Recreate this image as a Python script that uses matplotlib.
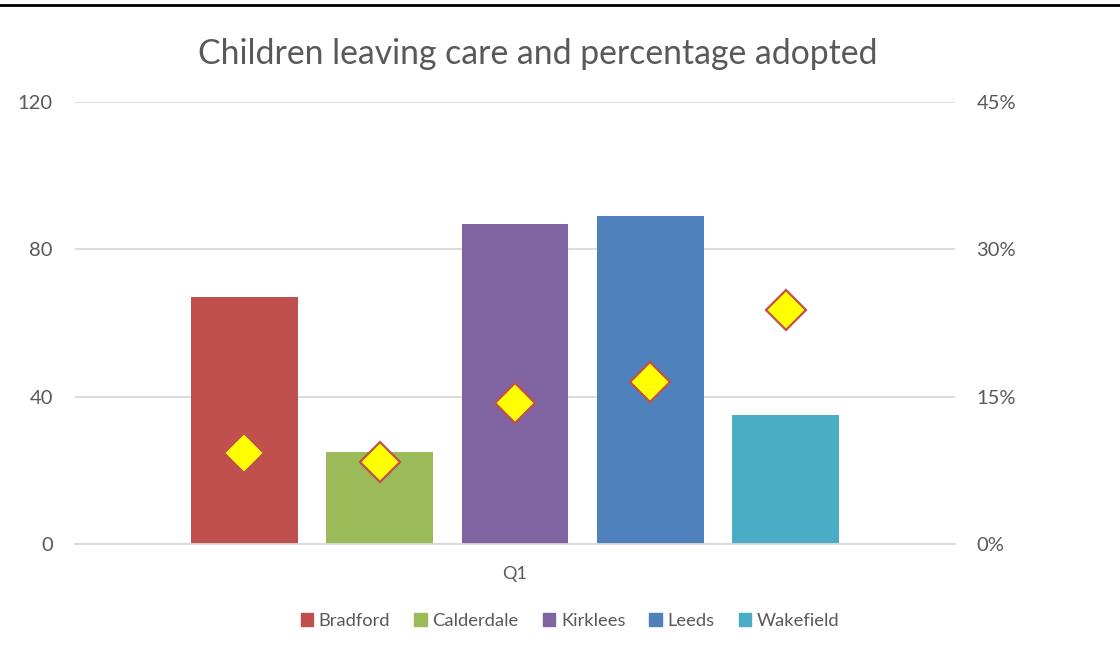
import numpy as np
import matplotlib.pyplot as plt
from matplotlib.lines import Line2D

plt.rcParams['font.family'] = ['Lato', 'DejaVu Sans']

areas = ['Bradford', 'Calderdale', 'Kirklees', 'Leeds', 'Wakefield']
leaving_care = [67, 25, 87, 89, 35]
pct_adopted = [9.3, 8.3, 14.4, 16.5, 23.8]
bar_colors = ['#C0504D', '#9BBB59', '#8064A2', '#4F81BD', '#4BACC6']
quarter = 'Q1'

text_col = '#595959'
grid_col = '#D9D9D9'

fig = plt.figure(figsize=(11.2, 6.59), dpi=100)
ax = fig.add_axes([75 / 1120, 1 - 544 / 659, 880 / 1120, 442 / 659])
ax2 = ax.twinx()

x = np.arange(len(areas)) - (len(areas) - 1) / 2
for xi, v, c, name in zip(x, leaving_care, bar_colors, areas):
    ax.bar(xi, v, width=0.79, color=c, label=name, zorder=2)

ax2.plot(x, pct_adopted, linestyle='none', marker='D', markersize=20.5,
         markerfacecolor='#FFFF00', markeredgecolor='#C0504D', markeredgewidth=1.6, zorder=3)

ax.set_xlim(-3.25, 3.25)
ax.set_ylim(0, 120)
ax.set_yticks([0, 40, 80, 120])
ax2.set_ylim(0, 45)
ax2.set_yticks([0, 15, 30, 45])
ax2.set_yticklabels(['0%', '15%', '30%', '45%'])
ax.set_xticks([0])
ax.set_xticklabels([quarter])

ax.grid(axis='y', color=grid_col, linewidth=1.3, zorder=0)
ax.set_axisbelow(True)
for a in (ax, ax2):
    for s in a.spines.values():
        s.set_visible(False)
    a.tick_params(length=0, labelsize=14.5, colors=text_col)
ax.spines['bottom'].set_visible(True)
ax.spines['bottom'].set_color(grid_col)
ax.spines['bottom'].set_linewidth(1.3)
ax.tick_params(axis='y', pad=16)
ax2.tick_params(axis='y', pad=15.5)
ax.tick_params(axis='x', labelsize=13, pad=16)

fig.text(538 / 1120, 1 - 54 / 659, 'Children leaving care and percentage adopted',
         ha='center', va='center', fontsize=24.3, color=text_col)

handles = [plt.Rectangle((0, 0), 1, 1, color=c) for c in bar_colors]
fig.legend(handles, areas, loc='center', bbox_to_anchor=(570 / 1120, 1 - 621 / 659),
           ncol=5, frameon=False, fontsize=13.2, labelcolor=text_col,
           handlelength=0.7, handleheight=0.7, handletextpad=0.3, columnspacing=1.3)

fig.add_artist(Line2D([0, 1], [1 - 5 / 659, 1 - 5 / 659], color='black', linewidth=2))

fig.savefig('out.png', dpi=100)
